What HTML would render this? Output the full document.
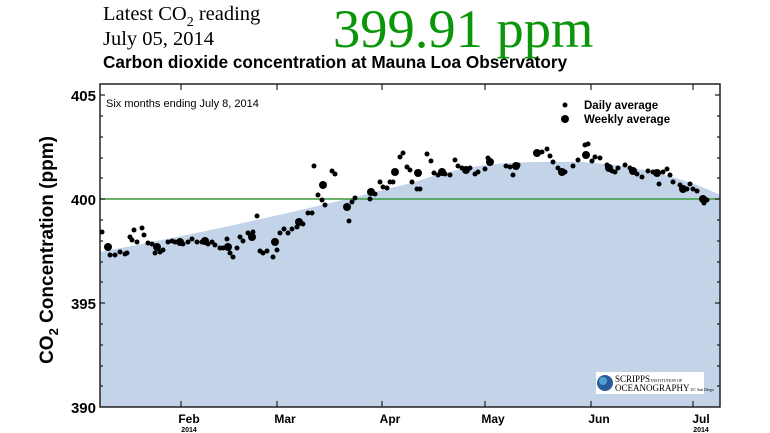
<!DOCTYPE html>
<html><head><meta charset="utf-8"><style>
body{margin:0;background:#fff;width:770px;height:433px;overflow:hidden}
svg{display:block}
</style></head><body>
<svg width="770" height="433" viewBox="0 0 770 433" xmlns="http://www.w3.org/2000/svg">
<text x="103" y="20" font-family="Liberation Serif,serif" font-size="20.5">Latest CO<tspan font-size="14" dy="6">2</tspan><tspan dy="-6"> reading</tspan></text>
<text x="103" y="45" font-family="Liberation Serif,serif" font-size="20.5">July 05, 2014</text>
<text x="333" y="47" font-family="Liberation Serif,serif" font-size="54.5" fill="#0a960a">399.91 ppm</text>
<text x="103" y="68" font-family="Liberation Sans,sans-serif" font-size="17.2" font-weight="bold">Carbon dioxide concentration at Mauna Loa Observatory</text>
<path d="M100,407 L100,252 Q260,222 415,182 C460,166 500,162 543,162 L580,162 C640,165 690,180 720,195 L720,407 Z" fill="#c3d4e9"/>
<line x1="100" y1="199" x2="720" y2="199" stroke="#3a9a3a" stroke-width="1.5"/>
<g stroke="#222" stroke-width="1.2">
<rect x="100" y="84" width="620" height="323" fill="none" stroke-width="1.5"/>
<path d="M100,95h5M100,116h3M100,137h3M100,158h3M100,178h3M100,199h5M100,220h3M100,241h3M100,262h3M100,282h3M100,303h5M100,324h3M100,345h3M100,366h3M100,386h3
M720,95h-5M720,116h-3M720,137h-3M720,158h-3M720,178h-3M720,199h-5M720,220h-3M720,241h-3M720,262h-3M720,282h-3M720,303h-5M720,324h-3M720,345h-3M720,366h-3M720,386h-3
M181,407v-6M277,407v-6M382,407v-6M485,407v-6M591,407v-6M693,407v-6
M181,84v6M277,84v6M382,84v6M485,84v6M591,84v6M693,84v6"/>
</g>
<g font-family="Liberation Sans,sans-serif" font-weight="bold" font-size="15" text-anchor="end">
<text x="96" y="101">405</text><text x="96" y="205">400</text><text x="96" y="309">395</text><text x="96" y="413">390</text>
</g>
<g font-family="Liberation Sans,sans-serif" font-weight="bold" font-size="12" text-anchor="middle">
<text x="189" y="423">Feb</text><text x="285" y="423">Mar</text><text x="390" y="423">Apr</text><text x="493" y="423">May</text><text x="599" y="423">Jun</text><text x="701" y="423">Jul</text>
<text x="189" y="432" font-size="7">2014</text><text x="701" y="432" font-size="7">2014</text>
</g>
<text transform="translate(53,250) rotate(-90)" font-family="Liberation Sans,sans-serif" font-weight="bold" font-size="19" text-anchor="middle">CO<tspan font-size="13" dy="5">2</tspan><tspan dy="-5"> Concentration (ppm)</tspan></text>
<text x="106" y="107" font-family="Liberation Sans,sans-serif" font-size="11">Six months ending July 8, 2014</text>
<circle cx="565" cy="105" r="2.5"/><text x="584" y="109" font-family="Liberation Sans,sans-serif" font-weight="bold" font-size="11.5">Daily average</text>
<circle cx="565" cy="119" r="4"/><text x="584" y="123" font-family="Liberation Sans,sans-serif" font-weight="bold" font-size="11.5">Weekly average</text>
<g fill="#000">
<circle cx="102" cy="232" r="2.5"/><circle cx="108" cy="247" r="4"/><circle cx="110" cy="255" r="2.5"/><circle cx="115" cy="255" r="2.5"/><circle cx="120" cy="252" r="2.5"/><circle cx="125" cy="254" r="2.5"/><circle cx="127" cy="253" r="2.5"/>
<circle cx="130" cy="237" r="2.5"/><circle cx="132" cy="240" r="2.5"/><circle cx="134" cy="230" r="2.5"/><circle cx="137" cy="242" r="2.5"/><circle cx="142" cy="228" r="2.5"/><circle cx="144" cy="235" r="2.5"/><circle cx="148" cy="243" r="2.5"/><circle cx="152" cy="244" r="2.5"/><circle cx="155" cy="253" r="2.5"/><circle cx="157" cy="247" r="4"/><circle cx="160" cy="252" r="2.5"/><circle cx="163" cy="250" r="2.5"/>
<circle cx="168" cy="242" r="2.5"/><circle cx="172" cy="241" r="2.5"/><circle cx="175" cy="242" r="2.5"/><circle cx="180" cy="242" r="4"/><circle cx="183" cy="244" r="2.5"/><circle cx="188" cy="242" r="2.5"/><circle cx="192" cy="239" r="2.5"/><circle cx="197" cy="242" r="2.5"/><circle cx="202" cy="242" r="2.5"/><circle cx="205" cy="241" r="4"/><circle cx="208" cy="244" r="2.5"/><circle cx="212" cy="242" r="2.5"/><circle cx="215" cy="245" r="2.5"/>
<circle cx="220" cy="248" r="2.5"/><circle cx="223" cy="248" r="2.5"/><circle cx="227" cy="239" r="2.5"/><circle cx="228" cy="247" r="4"/><circle cx="230" cy="253" r="2.5"/><circle cx="233" cy="257" r="2.5"/><circle cx="237" cy="248" r="2.5"/><circle cx="240" cy="237" r="2.5"/><circle cx="243" cy="241" r="2.5"/><circle cx="248" cy="233" r="2.5"/><circle cx="252" cy="237" r="4"/><circle cx="253" cy="232" r="2.5"/><circle cx="257" cy="216" r="2.5"/>
<circle cx="260" cy="251" r="2.5"/><circle cx="263" cy="253" r="2.5"/><circle cx="267" cy="251" r="2.5"/><circle cx="273" cy="257" r="2.5"/><circle cx="275" cy="242" r="4"/><circle cx="277" cy="250" r="2.5"/><circle cx="280" cy="233" r="2.5"/><circle cx="284" cy="229" r="2.5"/><circle cx="288" cy="233" r="2.5"/><circle cx="292" cy="229" r="2.5"/><circle cx="297" cy="227" r="2.5"/><circle cx="299" cy="222" r="4"/><circle cx="303" cy="224" r="2.5"/><circle cx="308" cy="213" r="2.5"/><circle cx="312" cy="213" r="2.5"/>
<circle cx="314" cy="166" r="2.5"/><circle cx="318" cy="195" r="2.5"/><circle cx="322" cy="200" r="2.5"/><circle cx="323" cy="185" r="4"/><circle cx="325" cy="205" r="2.5"/><circle cx="332" cy="171" r="2.5"/><circle cx="335" cy="174" r="2.5"/><circle cx="347" cy="207" r="4"/><circle cx="349" cy="221" r="2.5"/><circle cx="352" cy="202" r="2.5"/><circle cx="355" cy="198" r="2.5"/>
<circle cx="370" cy="199" r="2.5"/><circle cx="371" cy="192" r="4"/><circle cx="375" cy="194" r="2.5"/><circle cx="380" cy="182" r="2.5"/><circle cx="383" cy="187" r="2.5"/><circle cx="387" cy="188" r="2.5"/><circle cx="390" cy="182" r="2.5"/><circle cx="393" cy="182" r="2.5"/><circle cx="395" cy="172" r="4"/><circle cx="400" cy="157" r="2.5"/><circle cx="403" cy="153" r="2.5"/><circle cx="407" cy="167" r="2.5"/><circle cx="410" cy="170" r="2.5"/>
<circle cx="412" cy="182" r="2.5"/><circle cx="417" cy="189" r="2.5"/><circle cx="420" cy="189" r="2.5"/><circle cx="418" cy="173" r="4"/><circle cx="427" cy="154" r="2.5"/><circle cx="431" cy="161" r="2.5"/><circle cx="434" cy="173" r="2.5"/><circle cx="438" cy="175" r="2.5"/><circle cx="442" cy="172" r="4"/><circle cx="445" cy="174" r="2.5"/><circle cx="450" cy="175" r="2.5"/>
<circle cx="455" cy="160" r="2.5"/><circle cx="458" cy="166" r="2.5"/><circle cx="462" cy="168" r="2.5"/><circle cx="466" cy="170" r="4"/><circle cx="470" cy="168" r="2.5"/><circle cx="475" cy="174" r="2.5"/><circle cx="478" cy="172" r="2.5"/><circle cx="485" cy="169" r="2.5"/><circle cx="488" cy="158" r="2.5"/><circle cx="490" cy="162" r="4"/>
<circle cx="506" cy="166" r="2.5"/><circle cx="510" cy="167" r="2.5"/><circle cx="513" cy="175" r="2.5"/><circle cx="516" cy="166" r="4"/><circle cx="518" cy="165" r="2.5"/><circle cx="537" cy="153" r="4"/><circle cx="542" cy="152" r="2.5"/><circle cx="547" cy="149" r="2.5"/><circle cx="550" cy="156" r="2.5"/><circle cx="553" cy="162" r="2.5"/>
<circle cx="558" cy="168" r="2.5"/><circle cx="562" cy="172" r="4"/><circle cx="565" cy="172" r="2.5"/><circle cx="573" cy="166" r="2.5"/><circle cx="578" cy="160" r="2.5"/><circle cx="585" cy="145" r="2.5"/><circle cx="588" cy="144" r="2.5"/><circle cx="586" cy="155" r="4"/><circle cx="592" cy="161" r="2.5"/><circle cx="595" cy="157" r="2.5"/><circle cx="600" cy="158" r="2.5"/>
<circle cx="607" cy="165" r="2.5"/><circle cx="609" cy="168" r="4"/><circle cx="612" cy="171" r="2.5"/><circle cx="615" cy="172" r="2.5"/><circle cx="618" cy="168" r="2.5"/><circle cx="625" cy="165" r="2.5"/><circle cx="630" cy="168" r="2.5"/><circle cx="633" cy="171" r="4"/><circle cx="637" cy="174" r="2.5"/><circle cx="642" cy="177" r="2.5"/>
<circle cx="648" cy="171" r="2.5"/><circle cx="653" cy="172" r="2.5"/><circle cx="657" cy="173" r="4"/><circle cx="659" cy="184" r="2.5"/><circle cx="663" cy="172" r="2.5"/><circle cx="667" cy="169" r="2.5"/><circle cx="670" cy="175" r="2.5"/><circle cx="673" cy="182" r="2.5"/><circle cx="680" cy="185" r="2.5"/><circle cx="683" cy="189" r="4"/><circle cx="687" cy="189" r="2.5"/><circle cx="690" cy="184" r="2.5"/><circle cx="693" cy="189" r="2.5"/><circle cx="697" cy="191" r="2.5"/>
<circle cx="703" cy="199" r="4"/><circle cx="704" cy="203" r="2.5"/><circle cx="707" cy="200" r="2.5"/>
</g>
<rect x="596" y="372" width="108" height="22" fill="#fff"/>
<circle cx="605" cy="383" r="8" fill="#2a5b9a"/><circle cx="603" cy="381" r="4" fill="#4fa0d0"/>
<text x="615" y="382" font-family="Liberation Serif,serif" font-size="9">SCRIPPS<tspan font-size="4"> INSTITUTION OF</tspan></text>
<text x="615" y="391" font-family="Liberation Serif,serif" font-size="9">OCEANOGRAPHY<tspan font-size="4"> UC San Diego</tspan></text>
</svg>
</body></html>
